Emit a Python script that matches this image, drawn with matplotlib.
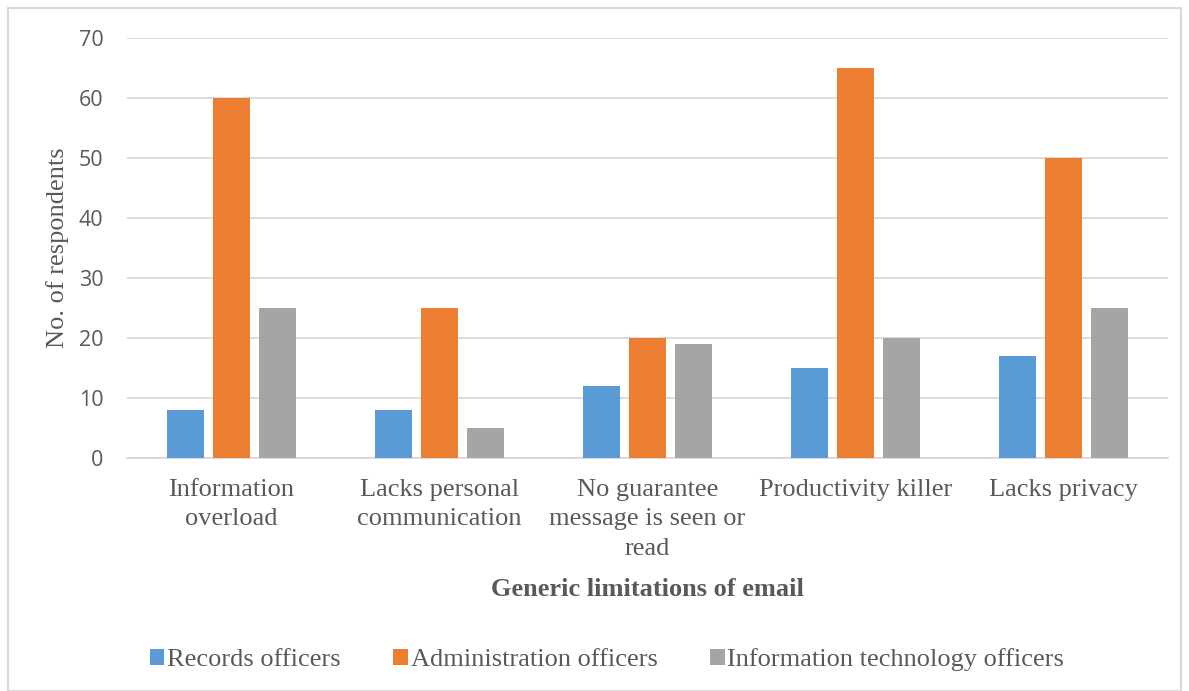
import matplotlib
matplotlib.use("Agg")
import matplotlib.pyplot as plt
import numpy as np
from matplotlib.patches import Rectangle

categories = ["Information\noverload", "Lacks personal\ncommunication",
              "No guarantee\nmessage is seen or\nread", "Productivity killer", "Lacks privacy"]
series_names = ["Records officers", "Administration officers", "Information technology officers"]
records = [8, 8, 12, 15, 17]
admin = [60, 25, 20, 65, 50]
it = [25, 5, 19, 20, 25]
colors = ["#5B9BD5", "#ED7D31", "#A5A5A5"]
yticks = [0, 10, 20, 30, 40, 50, 60, 70]

W, H = 1189, 691
fig = plt.figure(figsize=(W / 100, H / 100), dpi=100)
fig.patches.append(Rectangle((8 / W, 0), (W - 16) / W, (H - 8) / H, transform=fig.transFigure,
                             fill=False, edgecolor="#D9D9D9", linewidth=1.5))

ax = fig.add_axes([127 / W, 1 - 458 / H, (1168 - 127) / W, (458 - 38) / H])
x = np.arange(len(categories))
bw = 0.178
step = 0.221
for i, (vals, c, name) in enumerate(zip([records, admin, it], colors, series_names)):
    ax.bar(x + (i - 1) * step, vals, width=bw, color=c, label=name, zorder=3)

ax.set_xlim(-0.5, len(categories) - 0.5)
ax.set_ylim(0, 70)
ax.set_yticks(yticks)
ax.yaxis.grid(True, color="#D9D9D9", linewidth=1.3, zorder=0)
for s in ["top", "right", "left"]:
    ax.spines[s].set_visible(False)
ax.spines["bottom"].set_color("#D9D9D9")
ax.spines["bottom"].set_linewidth(1.3)
ax.tick_params(axis="both", length=0)
ax.tick_params(axis="y", labelsize=15.5, labelcolor="#595959", pad=17)
for lab in ax.get_yticklabels():
    lab.set_family("Open Sans")
ax.set_xticks(x)
ax.set_xticklabels(categories, family="Liberation Serif", fontsize=19, color="#595959",
                   linespacing=1.45)
ax.tick_params(axis="x", pad=15)

fig.text(58 / W, 1 - 248 / H, "No. of respondents", rotation=90, ha="center", va="center",
         family="Liberation Serif", fontsize=19, color="#595959")
fig.text(647 / W, 1 - 590 / H, "Generic limitations of email", ha="center", va="center",
         family="Liberation Serif", fontsize=19, fontweight="bold", color="#595959")

leg = fig.legend(loc="center", bbox_to_anchor=(607 / W, 1 - 660 / H), ncol=3, frameon=False,
                 prop={"family": "Liberation Serif", "size": 19}, handlelength=0.55,
                 handleheight=0.55, handletextpad=0.1, columnspacing=2.0)
for t in leg.get_texts():
    t.set_color("#595959")

fig.savefig("out.png", dpi=100)
